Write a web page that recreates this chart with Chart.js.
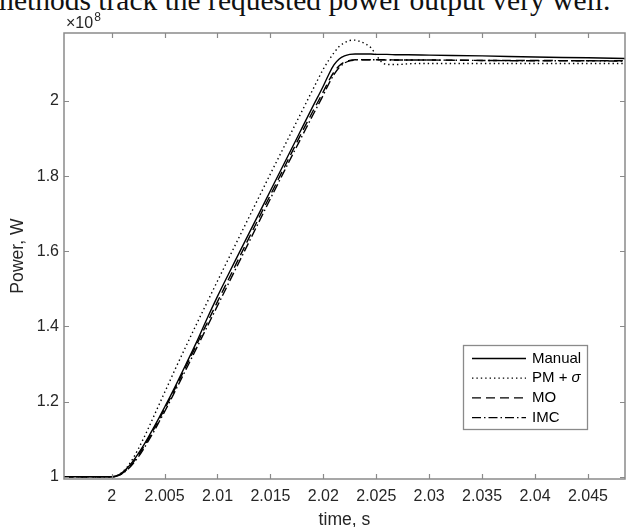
<!DOCTYPE html>
<html>
<head>
<meta charset="utf-8">
<script src="https://cdn.jsdelivr.net/npm/chart.js@4.4.1/dist/chart.umd.min.js"></script>
<style>
  html, body { margin: 0; padding: 0; background: #fff; overflow: hidden; }
  #page { position: relative; width: 626px; height: 527px; overflow: hidden; background: #fff; }
  #chart { position: absolute; left: 0; top: 0; }
  #lead {
    position: absolute; left: -9px; top: -14px; margin: 0; white-space: nowrap;
    font-family: "Liberation Serif", "Times New Roman", serif; font-size: 29.5px;
    line-height: 1; color: #111;
  }
</style>
</head>
<body>
<div id="page">
  <p id="lead">methods track the requested power output very well.</p>
  <canvas id="chart" width="626" height="527"></canvas>
</div>
<script>
// Time base in seconds (shared by all four responses)
const timeS = [
  1.9955, 2.000, 2.0005, 2.001, 2.0015, 2.002, 2.0025, 2.003, 2.0035, 2.004,
  2.0045, 2.005, 2.0055, 2.006, 2.007, 2.008, 2.009, 2.010, 2.011, 2.012,
  2.013, 2.014, 2.015, 2.016, 2.017, 2.018, 2.019, 2.020, 2.0205, 2.021,
  2.0215, 2.022, 2.0225, 2.023, 2.0235, 2.024, 2.0245, 2.025, 2.0255, 2.026,
  2.027, 2.028, 2.030, 2.035, 2.040, 2.045, 2.0485
];

// Power output in units of 1e8 W
const powerManual = [
  1.000, 1.000, 1.003, 1.011, 1.024, 1.041, 1.061, 1.083, 1.107, 1.132,
  1.158, 1.185, 1.212, 1.240, 1.298, 1.357, 1.420, 1.480, 1.537, 1.593,
  1.649, 1.705, 1.761, 1.817, 1.873, 1.929, 1.985, 2.040, 2.070, 2.096,
  2.112, 2.120, 2.124, 2.125, 2.125, 2.125, 2.125, 2.124, 2.124, 2.124,
  2.123, 2.123, 2.122, 2.120, 2.117, 2.115, 2.113
];
const powerPMSigma = [
  1.000, 1.000, 1.003, 1.012, 1.027, 1.048, 1.073, 1.101, 1.131, 1.162,
  1.193, 1.224, 1.255, 1.286, 1.346, 1.405, 1.463, 1.521, 1.578, 1.635,
  1.692, 1.749, 1.806, 1.862, 1.918, 1.974, 2.030, 2.085, 2.108, 2.128,
  2.145, 2.155, 2.161, 2.162, 2.158, 2.152, 2.142, 2.122, 2.104, 2.097,
  2.097, 2.099, 2.100, 2.100, 2.100, 2.100, 2.100
];
const powerMO = [
  1.000, 1.000, 1.002, 1.009, 1.021, 1.037, 1.056, 1.078, 1.102, 1.127,
  1.153, 1.180, 1.207, 1.235, 1.292, 1.350, 1.408, 1.466, 1.523, 1.580,
  1.637, 1.694, 1.750, 1.806, 1.862, 1.918, 1.972, 2.025, 2.053, 2.077,
  2.094, 2.104, 2.108, 2.110, 2.110, 2.110, 2.110, 2.110, 2.110, 2.110,
  2.109, 2.109, 2.109, 2.108, 2.108, 2.107, 2.107
];
const powerIMC = [
  1.000, 1.000, 1.002, 1.008, 1.019, 1.034, 1.052, 1.073, 1.097, 1.121,
  1.147, 1.173, 1.200, 1.228, 1.284, 1.341, 1.398, 1.455, 1.512, 1.569,
  1.626, 1.683, 1.740, 1.796, 1.852, 1.907, 1.962, 2.016, 2.045, 2.070,
  2.089, 2.101, 2.107, 2.109, 2.110, 2.110, 2.110, 2.110, 2.110, 2.109,
  2.109, 2.109, 2.109, 2.108, 2.107, 2.107, 2.106
];

const seriesNames = ['Manual', 'PM + \u03c3', 'MO', 'IMC'];

const xTicks = [2, 2.005, 2.01, 2.015, 2.02, 2.025, 2.03, 2.035, 2.04, 2.045];
const xTickLabels = ['2', '2.005', '2.01', '2.015', '2.02', '2.025', '2.03', '2.035', '2.04', '2.045'];
const yTicks = [1, 1.2, 1.4, 1.6, 1.8, 2];
const yTickLabels = ['1', '1.2', '1.4', '1.6', '1.8', '2'];

const X_MIN = 1.9955, X_MAX = 2.0485;
const Y_MIN = 0.994, Y_MAX = 2.181;

const SANS = '"Liberation Sans", Arial, Helvetica, sans-serif';
const AXIS_GREY = '#8a8a8a';
const TEXT_GREY = '#262626';

function toPoints(values) {
  return timeS.map((t, i) => ({ x: t, y: values[i] }));
}

const lineStyles = [
  { borderDash: [] },
  { borderDash: [1.4, 3] },
  { borderDash: [9, 5] },
  { borderDash: [9, 3, 1.5, 3] }
];
const seriesValues = [powerManual, powerPMSigma, powerMO, powerIMC];

const datasets = seriesValues.map((vals, i) => ({
  label: seriesNames[i],
  data: toPoints(vals),
  borderColor: '#000',
  borderWidth: 1.4,
  borderDash: lineStyles[i].borderDash,
  borderCapStyle: 'butt',
  pointRadius: 0,
  fill: false,
  cubicInterpolationMode: 'monotone'
}));

// Box around the plot area with inward tick marks on all four sides
const boxAxes = {
  id: 'boxAxes',
  afterDatasetsDraw(chart) {
    const { ctx, chartArea: a, scales: { x, y } } = chart;
    const len = 5;
    ctx.save();
    ctx.strokeStyle = AXIS_GREY;
    ctx.lineWidth = 1.5;
    ctx.strokeRect(a.left, a.top, a.right - a.left, a.bottom - a.top);
    ctx.lineWidth = 1.2;
    ctx.beginPath();
    xTicks.forEach(v => {
      const px = Math.round(x.getPixelForValue(v)) + 0.5;
      ctx.moveTo(px, a.bottom); ctx.lineTo(px, a.bottom - len);
      ctx.moveTo(px, a.top); ctx.lineTo(px, a.top + len);
    });
    yTicks.forEach(v => {
      const py = Math.round(y.getPixelForValue(v)) + 0.5;
      ctx.moveTo(a.left, py); ctx.lineTo(a.left + len, py);
      ctx.moveTo(a.right, py); ctx.lineTo(a.right - len, py);
    });
    ctx.stroke();
    ctx.restore();
  }
};

// Exponent marker above the y axis
const exponentLabel = {
  id: 'exponentLabel',
  afterDraw(chart) {
    const { ctx, chartArea: a } = chart;
    ctx.save();
    ctx.fillStyle = TEXT_GREY;
    ctx.textBaseline = 'alphabetic';
    ctx.textAlign = 'left';
    ctx.font = '16px ' + SANS;
    const base = '\u00d710';
    const bx = a.left + 2;
    ctx.fillText(base, bx, a.top - 5);
    const w = ctx.measureText(base).width;
    ctx.font = '12px ' + SANS;
    ctx.fillText('8', bx + w + 1, a.top - 12);
    ctx.restore();
  }
};

// Legend drawn inside the plot area, lower right
const insideLegend = {
  id: 'insideLegend',
  afterDraw(chart) {
    const { ctx } = chart;
    const box = { x: 463, y: 345, w: 124, h: 84 };
    ctx.save();
    ctx.fillStyle = '#fff';
    ctx.fillRect(box.x, box.y, box.w, box.h);
    ctx.strokeStyle = AXIS_GREY;
    ctx.lineWidth = 1.3;
    ctx.strokeRect(box.x + 0.5, box.y + 0.5, box.w, box.h);
    chart.data.datasets.forEach((ds, i) => {
      const ry = box.y + 13.5 + i * 19.7;
      ctx.strokeStyle = '#000';
      ctx.lineWidth = 1.3;
      ctx.setLineDash(ds.borderDash || []);
      ctx.beginPath();
      ctx.moveTo(box.x + 9, ry);
      ctx.lineTo(box.x + 63, ry);
      ctx.stroke();
      ctx.setLineDash([]);
      ctx.fillStyle = '#000';
      ctx.textBaseline = 'middle';
      ctx.textAlign = 'left';
      const tx = box.x + 69;
      if (ds.label.endsWith('\u03c3')) {
        const head = ds.label.slice(0, -1);
        ctx.font = '15px ' + SANS;
        ctx.fillText(head, tx, ry);
        const hw = ctx.measureText(head).width;
        ctx.font = 'italic 15px ' + SANS;
        ctx.fillText('\u03c3', tx + hw, ry);
      } else {
        ctx.font = '15px ' + SANS;
        ctx.fillText(ds.label, tx, ry);
      }
    });
    ctx.restore();
  }
};

new Chart(document.getElementById('chart'), {
  type: 'line',
  data: { datasets },
  options: {
    responsive: false,
    animation: false,
    devicePixelRatio: 1,
    layout: { padding: { top: 33, right: 1, left: 0, bottom: 0 } },
    plugins: { legend: { display: false }, tooltip: { enabled: false } },
    scales: {
      x: {
        type: 'linear',
        min: X_MIN,
        max: X_MAX,
        afterBuildTicks(s) { s.ticks = xTicks.map(v => ({ value: v })); },
        afterFit(s) { s.height = 48; },
        grid: { display: false, drawTicks: false },
        border: { display: false },
        ticks: {
          autoSkip: false, maxRotation: 0, padding: 8, color: TEXT_GREY,
          font: { family: SANS, size: 16 },
          callback: (v, i) => xTickLabels[i]
        },
        title: {
          display: true, text: 'time, s', color: TEXT_GREY,
          font: { family: SANS, size: 17.6 },
          padding: { top: 0, bottom: -4 }
        }
      },
      y: {
        type: 'linear',
        min: Y_MIN,
        max: Y_MAX,
        afterBuildTicks(s) { s.ticks = yTicks.map(v => ({ value: v })); },
        afterFit(s) { s.width = 64; },
        grid: { display: false, drawTicks: false },
        border: { display: false },
        ticks: {
          autoSkip: false, padding: 5, color: TEXT_GREY,
          font: { family: SANS, size: 16 },
          callback: (v, i) => yTickLabels[i]
        },
        title: {
          display: true, text: 'Power, W', color: TEXT_GREY,
          font: { family: SANS, size: 17.6 },
          padding: { top: 7.5, bottom: 0 }
        }
      }
    }
  },
  plugins: [boxAxes, exponentLabel, insideLegend]
});
</script>
</body>
</html>
